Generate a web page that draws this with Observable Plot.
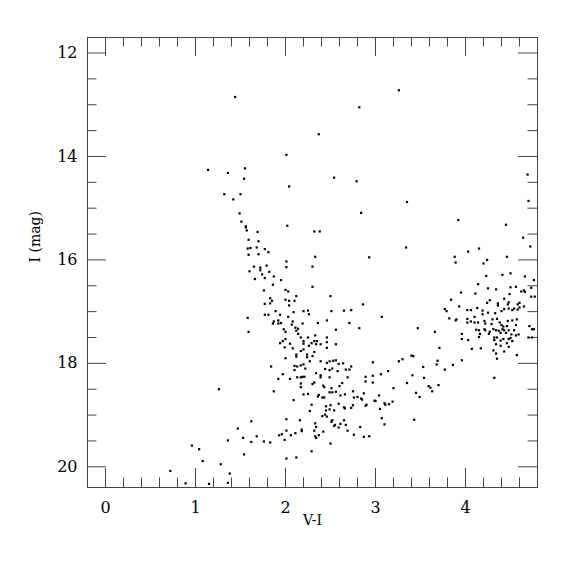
<!DOCTYPE html>
<html><head><meta charset="utf-8">
<script src="https://cdn.jsdelivr.net/npm/d3@7"></script>
<script src="https://cdn.jsdelivr.net/npm/@observablehq/plot@0.6"></script>
<style>html,body{margin:0;padding:0;background:#fff}</style>
</head><body><div id="chart"></div>
<script>
// [V-I, I] pairs
const brightStars = [[1.44,12.85],[3.26,12.72],[2.82,13.05],[2.37,13.57],[2.01,13.97],[1.14,14.26],[1.36,14.32],[1.55,14.23],[1.54,14.43],[2.54,14.41],[2.79,14.48],[2.04,14.58],[4.69,14.35],
[3.35,14.88],[2.84,15.09],[3.92,15.23],[4.45,15.32],[4.70,14.86],[3.34,15.76],[2.93,15.95]];
const giantBranch = [[1.32,14.73],[1.50,14.73],[1.42,14.83],[1.49,15.10],[1.51,15.26],[1.56,15.35],[1.56,15.37],[1.57,15.43],[1.69,15.46],[2.02,15.34],[2.32,15.45],[2.38,15.45],[1.59,15.61],[1.70,15.64],[1.58,15.78],[1.61,15.77],[1.68,15.76],[1.77,15.79],[1.81,15.85],[1.59,15.90],[1.70,15.89],[2.33,15.94],[2.01,16.03],[2.01,16.14],[2.30,16.13],[1.65,16.13],[1.79,16.11],[1.72,16.15],[1.72,16.20],[1.60,16.22],[1.82,16.23],[1.74,16.28],[1.87,16.32],[1.66,16.37],[1.77,16.35],
[1.95,16.39],[1.86,16.48],[1.76,16.59],[2.00,16.58],[2.03,16.61],[1.83,16.74],[1.85,16.79],[1.83,16.84],[1.77,16.85],[2.00,16.77],[2.04,16.79],[2.04,16.88],[1.89,16.99],[1.77,17.06],[1.81,17.06],[1.94,17.06],[2.03,17.10],[1.58,17.12],[1.87,17.19],[1.86,17.23],[1.92,17.17],[1.92,17.23],[1.95,17.22],[1.98,17.34]];
const mainClump = [[2.30,16.52],[2.12,16.70],[2.10,16.79],[2.50,16.70],[2.09,17.01],[2.20,16.99],[2.25,16.98],[2.26,17.05],[2.51,16.99],[2.65,16.98],[2.08,17.19],[2.07,17.25],[2.19,17.23],[2.36,17.22],[2.46,17.17],[2.71,17.22],[2.14,17.33],[2.11,17.31],
[2.00,17.39],[2.12,17.37],[2.14,17.43],[1.59,17.39],[2.56,17.35],[2.17,17.50],[2.25,17.50],[2.33,17.46],[2.46,17.50],[2.00,17.53],[1.97,17.57],[1.94,17.61],[2.05,17.62],[2.20,17.57],[2.20,17.62],[2.26,17.66],[2.29,17.61],[2.32,17.57],[2.35,17.57],[2.34,17.63],[2.39,17.63],[2.46,17.59],[2.46,17.70],[2.56,17.63],[1.99,17.69],[2.08,17.71],[2.12,17.83],[2.12,17.87],[2.17,17.76],[2.20,17.73],[2.24,17.83],[2.24,17.88],[2.30,17.86],[2.32,17.78],[2.00,17.90],[1.84,18.06],[2.27,17.96],[2.39,17.96],[2.46,17.99],[2.49,17.96],[2.53,17.95],[2.56,17.94],[2.59,18.01],[2.64,18.00],[2.10,18.05],[2.13,18.06],[2.17,18.04],[2.20,18.02],[2.22,18.10],[2.10,18.13],[2.44,18.11],[2.52,18.10],[2.49,18.13],[2.58,18.15],[2.67,18.12],[2.71,18.12],[1.97,18.21],[1.92,18.30],[2.05,18.30],[2.13,18.27],[2.17,18.27],[2.19,18.26],[2.21,18.26],[2.34,18.19],[2.39,18.23],[2.39,18.27],[2.49,18.27],[2.69,18.27],[2.17,18.39],[2.17,18.46],[2.30,18.40],[2.32,18.37],[2.42,18.43],[2.43,18.46],[2.51,18.48],[2.56,18.55],[2.60,18.44],[2.63,18.38],[2.66,18.60],[2.61,18.62],[2.49,18.56],[2.52,18.56],[1.26,18.50],[1.87,18.54],[2.20,18.60],[2.25,18.59],[2.36,18.64],[2.37,18.61],[2.41,18.66],[2.43,18.66],[2.09,18.71],[2.29,18.80],[2.45,18.83],[2.50,18.81],[2.59,18.78],[2.65,18.85],[2.66,18.87],[2.27,18.92],[2.45,18.91],[2.49,18.89],[2.54,18.91],[2.41,19.02],[2.44,18.99],[2.46,19.03],[2.52,19.10],[2.51,19.13],[2.55,19.19],[2.54,19.21],[2.61,19.17],[2.65,19.10],[2.67,19.19],[2.59,19.24],[2.69,19.30],[2.33,19.16],[2.34,19.23],[2.32,19.30],[2.16,19.10],[2.01,19.08],[2.01,19.30],[2.18,19.28],[2.18,19.31],[2.11,19.35],[1.96,19.37],[1.93,19.39],[2.06,19.39],[2.33,19.41],[2.37,19.39],[2.42,19.32],[2.34,19.44],[2.50,19.55],[2.29,19.70],[2.01,19.84],[2.12,19.82],
[2.86,16.86],[2.73,16.97],[3.07,17.10],[2.82,17.32],[2.73,18.06],[2.89,18.26],[2.97,17.98],[2.97,18.24],[3.06,18.21],[3.14,18.15],[2.89,18.35],[2.97,18.37]];
const blueStars = [[1.62,19.12],[1.47,19.26],[1.53,19.44],[1.36,19.49],[1.62,19.52],[1.68,19.41],[1.76,19.51],[1.83,19.53],[1.99,19.48],[0.96,19.59],[1.04,19.66],[1.54,19.76],
[1.08,19.89],[0.72,20.08],[0.89,20.32],[1.15,20.33],[1.28,19.95],[1.36,20.31],[1.38,20.13]];
const redSequence = [[2.75,18.54],[2.76,18.66],[2.80,18.65],[2.84,18.68],[2.85,18.70],[2.87,18.58],[2.73,18.86],[2.75,18.81],[2.89,18.82],[2.90,18.80],[2.83,19.23],[2.76,19.38],[2.87,19.42],[2.93,19.41],[2.99,18.72],[3.00,18.73],[3.04,18.62],[3.05,18.88],[3.10,18.77],[3.11,18.80],[3.15,18.79],[3.19,18.74],[3.07,19.06],[3.10,19.18],
[3.20,18.48],[3.35,18.38],[3.59,18.44],[3.61,18.47],[3.63,18.54],[3.70,18.42],[3.45,18.57],[3.49,18.65],[3.43,19.09],
[3.47,17.32],[3.66,17.39],[3.71,17.70],[3.26,17.96],[3.30,17.92],[3.40,17.85],[3.42,17.86],[3.41,18.23],[3.54,18.28],[3.53,18.07],[3.68,18.02],[3.69,17.95],[3.77,18.12],[3.86,18.03],[3.96,17.94],[4.32,18.28]];
const redClump = [[4.64,15.57],[4.72,15.74],[3.88,15.94],[3.89,16.05],[4.03,15.84],[4.15,15.78],[4.24,16.00],[4.20,16.07],[4.46,15.94],[4.76,16.39],[4.23,16.31],[4.41,16.29],[4.50,16.26],[4.66,16.32],[4.14,16.47],[3.95,16.63],[4.11,16.65],[4.25,16.55],[4.34,16.57],[4.50,16.53],[4.56,16.52],[4.62,16.61],[4.65,16.59],[4.66,16.62],[4.73,16.54],[4.73,16.71],[4.77,16.71],[4.49,16.66],[3.84,16.77],[4.27,16.78],[4.24,16.83],[4.36,16.84],[4.36,16.88],[4.43,16.75],[4.48,16.82],[4.47,16.86],[4.60,16.83],[4.58,16.86],[4.65,16.90],[3.77,16.95],[3.79,16.99],[3.93,16.90],[4.02,16.97],[4.06,16.97],[4.13,16.93],[4.19,16.98],[4.19,17.05],[4.25,17.02],[4.33,17.03],[4.40,16.99],[4.43,16.95],[4.48,16.94],[4.52,16.97],[4.54,16.94],[4.58,16.96],[4.60,16.92],[3.82,17.13],[3.89,17.17],[3.90,17.15],[4.02,17.14],[4.02,17.21],[4.06,17.19],[4.10,17.10],[4.10,17.21],[4.14,17.21],[4.21,17.18],[4.22,17.23],[4.30,17.15],[4.35,17.14],[4.29,17.24],[4.38,17.21],[4.40,17.26],[4.47,17.18],[4.52,17.17],[4.57,17.15],[4.42,17.29],[4.46,17.28],[4.56,17.26],[4.71,17.28],[4.74,17.34],[4.76,17.34],[4.12,17.35],[4.15,17.36],[4.16,17.43],[4.15,17.49],[4.21,17.34],[4.22,17.36],[4.27,17.39],[4.26,17.43],[4.31,17.34],[4.34,17.36],[4.37,17.37],[4.39,17.41],[4.41,17.34],[4.43,17.36],[4.45,17.41],[4.48,17.36],[4.51,17.44],[4.54,17.36],[4.56,17.46],[4.59,17.44],[3.96,17.43],[3.96,17.53],[4.03,17.55],[4.32,17.50],[4.32,17.55],[4.35,17.50],[4.34,17.63],[4.39,17.56],[4.42,17.53],[4.46,17.61],[4.48,17.53],[4.50,17.51],[4.52,17.57],[4.39,17.66],[4.48,17.68],[4.43,17.77],[4.31,17.75],[4.34,17.81],[4.35,17.91],[4.57,17.84],[4.17,17.71],[4.07,17.72],[4.70,17.50],[4.74,17.50]];

const xMajorTicks = [0, 1, 2, 3, 4];
const xMinorTicks = [0.2,0.4,0.6,0.8,1.2,1.4,1.6,1.8,2.2,2.4,2.6,2.8,3.2,3.4,3.6,3.8,4.2,4.4,4.6];
const yMajorTicks = [12, 14, 16, 18, 20];
const yMinorTicks = [12.5,13,13.5,14.5,15,15.5,16.5,17,17.5,18.5,19,19.5];
const xLabel = "V-I";
const yLabel = "I (mag)";

const stars = [...brightStars, ...giantBranch, ...mainClump, ...blueStars, ...redSequence, ...redClump];

const ink = "#444";
const frameSize = 450, majorLen = 19, minorLen = 9.5;

const chart = Plot.plot({
  width: 575, height: 575,
  marginLeft: 87, marginRight: 38, marginTop: 37, marginBottom: 88,
  style: {fontFamily: "'DejaVu Serif', serif", fontSize: "16px", color: "#000", background: "#fff"},
  x: {domain: [-0.2, 4.8]},
  y: {domain: [11.7, 20.4], reverse: true},
  marks: [
    Plot.frame({stroke: ink}),
    Plot.tickX(xMajorTicks, {x: d => d, stroke: ink, insetTop: frameSize - majorLen}),
    Plot.tickX(xMajorTicks, {x: d => d, stroke: ink, insetBottom: frameSize - majorLen}),
    Plot.tickX(xMinorTicks, {x: d => d, stroke: ink, insetTop: frameSize - minorLen}),
    Plot.tickX(xMinorTicks, {x: d => d, stroke: ink, insetBottom: frameSize - minorLen}),
    Plot.tickY(yMajorTicks, {y: d => d, stroke: ink, insetRight: frameSize - majorLen}),
    Plot.tickY(yMajorTicks, {y: d => d, stroke: ink, insetLeft: frameSize - majorLen}),
    Plot.tickY(yMinorTicks, {y: d => d, stroke: ink, insetRight: frameSize - minorLen}),
    Plot.tickY(yMinorTicks, {y: d => d, stroke: ink, insetLeft: frameSize - minorLen}),
    Plot.axisX({ticks: xMajorTicks, tickFormat: d => String(d), tickSize: 0, tickPadding: 14, label: null, fontSize: 16}),
    Plot.axisY({ticks: yMajorTicks, tickFormat: d => String(d), tickSize: 0, tickPadding: 10, label: null, fontSize: 16}),
    Plot.text([xLabel], {frameAnchor: "bottom", dy: 37, text: d => d, fontSize: 14}),
    Plot.text([yLabel], {frameAnchor: "left", dx: -52, rotate: -90, text: d => d, fontSize: 14}),
    Plot.dot(stars, {x: d => d[0], y: d => d[1], symbol: "square", r: 1.25, fill: "#000", stroke: "none"})
  ]
});
document.getElementById("chart").appendChild(chart);
</script>
</body></html>
